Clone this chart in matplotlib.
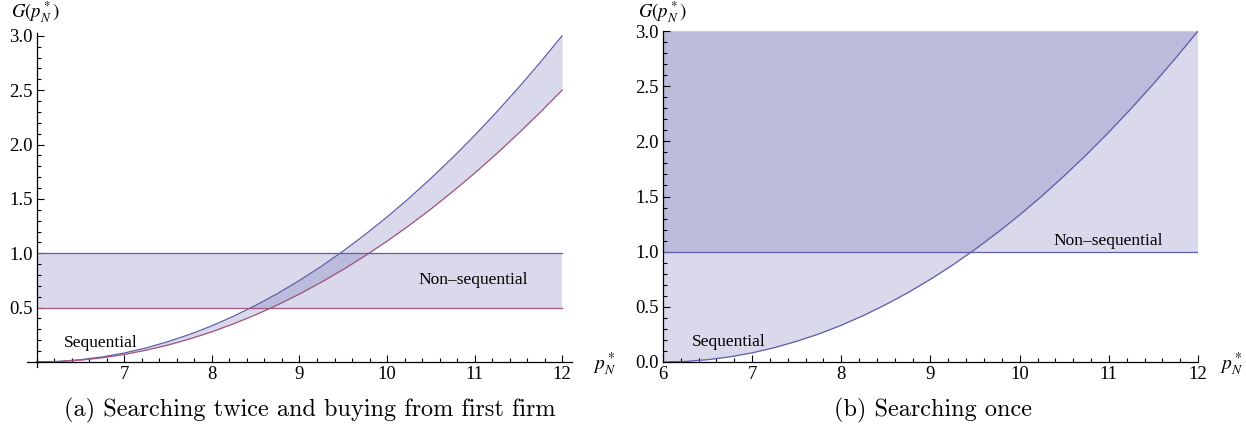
"""
G(p_N*) : sequential vs non-sequential search regions, two panels
"""
import numpy as np
import matplotlib.pyplot as plt
from matplotlib.ticker import MultipleLocator

# data
p = [6.0, 6.25, 6.5, 6.75, 7.0, 7.25, 7.5, 7.75, 8.0, 8.25, 8.5, 8.75, 9.0,
     9.25, 9.5, 9.75, 10.0, 10.25, 10.5, 10.75, 11.0, 11.25, 11.5, 11.75, 12.0]
g_upper = [0.0, 0.005, 0.021, 0.047, 0.083, 0.130, 0.188, 0.255, 0.333, 0.422,
           0.521, 0.630, 0.750, 0.880, 1.021, 1.172, 1.333, 1.505, 1.688, 1.880,
           2.083, 2.297, 2.521, 2.755, 3.0]
g_lower = [0.0, 0.004, 0.017, 0.039, 0.069, 0.109, 0.156, 0.213, 0.278, 0.352,
           0.434, 0.525, 0.625, 0.734, 0.851, 0.977, 1.111, 1.254, 1.406, 1.567,
           1.736, 1.914, 2.101, 2.296, 2.5]
nonseq_a = (0.5, 1.0)   # band in panel (a)
nonseq_b = (1.0, 3.0)   # band in panel (b)
g_top = 3.0

fill_c = '#4d4da1'
fill_a = 0.213
blue = '#5e5eaa'
red = '#a0567e'

plt.rcParams['font.family'] = ['Liberation Serif', 'DejaVu Serif']
plt.rcParams['mathtext.fontset'] = 'stix'

fig = plt.figure(figsize=(12.46, 4.29), dpi=100)
W, H = 1246.0, 429.0


def style_axes(ax):
    for s in ['top', 'right']:
        ax.spines[s].set_visible(False)
    for s in ['left', 'bottom']:
        ax.spines[s].set_linewidth(0.9)
    ax.tick_params(which='both', direction='in', labelsize=13.5, width=0.8, pad=3)
    ax.tick_params(which='major', length=5)
    ax.tick_params(which='minor', length=2.8)
    ax.yaxis.set_major_locator(MultipleLocator(0.5))
    ax.yaxis.set_minor_locator(MultipleLocator(0.1))
    ax.xaxis.set_major_locator(MultipleLocator(1))
    ax.xaxis.set_minor_locator(MultipleLocator(0.2))
    ax.yaxis.set_major_formatter(lambda v, pos: '%.1f' % v)
    ax.xaxis.set_major_formatter(lambda v, pos: '%d' % round(v))


# ---- panel (a)
ax1 = fig.add_axes([27 / W, 61.6 / H, 545 / W, 334.8 / H])
ax1.set_xlim(5.886, 12.114)
ax1.set_ylim(-0.05, 3.03)
ax1.spines['left'].set_position(('data', 6))
ax1.spines['bottom'].set_position(('data', 0))
style_axes(ax1)
ax1.set_xticks([7, 8, 9, 10, 11, 12])
ax1.set_yticks([0.5, 1.0, 1.5, 2.0, 2.5, 3.0])

ax1.fill_between(p, g_lower, g_upper, color=fill_c, alpha=fill_a, lw=0)
ax1.fill_between([6, 12], nonseq_a[0], nonseq_a[1], color=fill_c, alpha=fill_a, lw=0)
ax1.plot(p, g_upper, color=blue, lw=0.9)
ax1.plot(p, g_lower, color=red, lw=0.9)
ax1.plot([6, 12], [nonseq_a[1]] * 2, color=blue, lw=0.9)
ax1.plot([6, 12], [nonseq_a[0]] * 2, color=red, lw=0.9)
ax1.text(6.73, 0.17, 'Sequential', fontsize=12.5, ha='center', va='center')
ax1.text(10.98, 0.75, 'Non\u2013sequential', fontsize=12.5, ha='center', va='center')

# ---- panel (b)
ax2 = fig.add_axes([663 / W, 67 / H, 535 / W, 331 / H])
ax2.set_xlim(6, 12)
ax2.set_ylim(0, 3)
style_axes(ax2)

ax2.fill_between(p, g_upper, g_top, color=fill_c, alpha=fill_a, lw=0)
ax2.fill_between([6, 12], nonseq_b[0], nonseq_b[1], color=fill_c, alpha=fill_a, lw=0)
ax2.plot(p, g_upper, color=blue, lw=0.9)
ax2.plot([6, 12], [nonseq_b[0]] * 2, color=blue, lw=0.9)
ax2.text(6.74, 0.18, 'Sequential', fontsize=12.5, ha='center', va='center')
ax2.text(10.99, 1.10, 'Non\u2013sequential', fontsize=12.5, ha='center', va='center')

# axis labels
for x0, xl in [(36, 593), (663, 1220)]:
    fig.text(x0 / W, 1 - 12 / H, r'$G(p_N^*)$', fontsize=13.5, ha='center', va='center')
    fig.text(xl / W, 1 - 364 / H, r'$p_N^*$', fontsize=14, ha='left', va='center')

# captions
fig.text(310 / W, 1 - 410 / H, '(a) Searching twice and buying from first firm',
         family=['cmr10', 'DejaVu Serif'], fontsize=17.5, ha='center', va='center')
fig.text(933 / W, 1 - 410 / H, '(b) Searching once',
         family=['cmr10', 'DejaVu Serif'], fontsize=17.5, ha='center', va='center')

fig.savefig('out.png', dpi=100)
